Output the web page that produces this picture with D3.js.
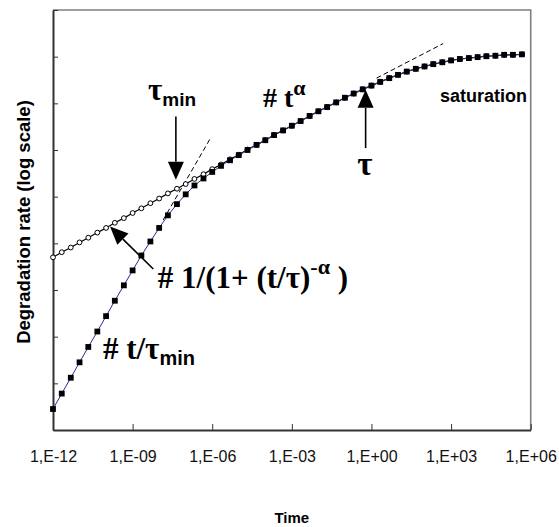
<!DOCTYPE html>
<html><head><meta charset="utf-8">
<script src="https://cdn.jsdelivr.net/npm/d3@7"></script>
<style>body{margin:0;background:#fff}svg{display:block}</style>
</head><body><svg id="c" width="559" height="527"></svg>
<script>
// ---- data (log10 units) ----
const logTime = [-12,-11.67,-11.33,-11,-10.67,-10.33,-10,-9.67,-9.33,-9,-8.67,-8.33,-8,-7.67,-7.33,-7,-6.67,-6.33,-6,-5.67,-5.33,-5,-4.67,-4.33,-4,-3.67,-3.33,-3,-2.67,-2.33,-2,-1.67,-1.33,-1,-0.67,-0.33,0,0.33,0.67,1,1.33,1.67,2,2.33,2.67,3,3.33,3.67,4,4.33,4.67,5,5.33,5.67];
const rateOpen = [3.70,3.81,3.91,4.02,4.12,4.23,4.33,4.44,4.54,4.65,4.75,4.86,4.96,5.07,5.17,5.27,5.38,5.48,5.59,5.69,5.80,5.90,6.01,6.11,6.21,6.32,6.42,6.52,6.62,6.73,6.83,6.92,7.02,7.12,7.21,7.30,7.38,7.46,7.54,7.61,7.68,7.74,7.79,7.84,7.88,7.92,7.95,7.97,7.99,8.01,8.02,8.04,8.04,8.05];
const rateFilled = [0.45,0.78,1.12,1.45,1.78,2.11,2.44,2.77,3.10,3.42,3.74,4.04,4.33,4.60,4.84,5.05,5.24,5.39,5.53,5.66,5.78,5.89,6.00,6.11,6.21,6.32,6.42,6.52,6.62,6.73,6.83,6.92,7.02,7.12,7.21,7.30,7.38,7.46,7.54,7.61,7.68,7.74,7.79,7.84,7.88,7.92,7.95,7.97,7.99,8.01,8.02,8.04,8.04,8.05];
const xTickValues = [-12,-9,-6,-3,0,3,6];
const xTickLabels = ["1,E-12","1,E-09","1,E-06","1,E-03","1,E+00","1,E+03","1,E+06"];
const yTickValues = [0,1,2,3,4,5,6,7,8,9];
// dashed asymptotes [logTime, logRate]
const asymLinear = [[-7.85,4.50],[-6.06,6.26]];
const asymPower = [[0.19,7.54],[2.70,8.28]];
// arrows: [tail, tip]
const arrows = [
  [[-7.37,6.72],[-7.37,5.36]],
  [[-0.22,6.04],[-0.22,7.29]],
  [[-8.22,3.45],[-9.85,4.36]]
];

// ---- layout ----
const L=53, R=530.7, T=10, B=430;
const svg=d3.select("#c");
const x=d3.scaleLinear().domain([-12,6]).range([L,R]);
const y=d3.scaleLinear().domain([0,9]).range([B,T]);

// frame top/right
svg.append("path").attr("d",`M${L},${T}H${R}V${B}`).attr("fill","none").attr("stroke","#7f7f7f").attr("stroke-width",1.6);

// axes
const xa=svg.append("g").attr("transform",`translate(0,${B})`)
  .call(d3.axisBottom(x).tickValues(xTickValues).tickSizeInner(-6).tickSizeOuter(0).tickPadding(21)
    .tickFormat((d,i)=>xTickLabels[i]));
const ya=svg.append("g").attr("transform",`translate(${L},0)`)
  .call(d3.axisLeft(y).tickValues(yTickValues).tickSizeInner(-5).tickSizeOuter(0).tickFormat(""));
[xa,ya].forEach(a=>{
  a.select(".domain").attr("stroke","#333").attr("stroke-width",2);
  a.selectAll(".tick line").attr("stroke","#333").attr("stroke-width",1);
});
xa.selectAll(".tick text").attr("font-family","Arial, 'Liberation Sans', sans-serif").attr("font-size",16).attr("fill","#111");

// axis titles
svg.append("text").attr("x",(L+R)/2).attr("y",523).attr("text-anchor","middle")
  .attr("font-family","Arial, 'Liberation Sans', sans-serif").attr("font-weight","bold").attr("font-size",15).text("Time");
svg.append("text").attr("transform",`translate(30,222) rotate(-90)`).attr("text-anchor","middle")
  .attr("font-family","Arial, 'Liberation Sans', sans-serif").attr("font-weight","bold").attr("font-size",18.5).text("Degradation rate (log scale)");

// dashed asymptotes
const line=d3.line().x(d=>x(d[0])).y(d=>y(d[1]));
[asymLinear,asymPower].forEach(a=>svg.append("path").attr("d",line(a)).attr("fill","none")
  .attr("stroke","#000").attr("stroke-width",1).attr("stroke-dasharray","5,3"));

// series
const openPts=logTime.map((t,i)=>[t,rateOpen[i]]);
const filledPts=logTime.map((t,i)=>[t,rateFilled[i]]);
svg.append("path").attr("d",line(openPts)).attr("fill","none").attr("stroke","#000").attr("stroke-width",1.2);
svg.append("g").selectAll("circle").data(openPts).join("circle")
  .attr("cx",d=>x(d[0])).attr("cy",d=>y(d[1])).attr("r",2.4)
  .attr("fill","#fff").attr("stroke","#000").attr("stroke-width",1);
svg.append("path").attr("d",line(filledPts)).attr("fill","none").attr("stroke","#2a2aa0").attr("stroke-width",1);
const s=5.8;
svg.append("g").selectAll("rect").data(filledPts).join("rect")
  .attr("x",d=>x(d[0])-s/2).attr("y",d=>y(d[1])-s/2).attr("width",s).attr("height",s).attr("fill","#000");

// arrows
arrows.forEach(([a,b])=>{
  const x1=x(a[0]),y1=y(a[1]),x2=x(b[0]),y2=y(b[1]);
  const ang=Math.atan2(y2-y1,x2-x1), hl=18, hw=8;
  const bx=x2-hl*Math.cos(ang), by=y2-hl*Math.sin(ang);
  svg.append("line").attr("x1",x1).attr("y1",y1).attr("x2",bx).attr("y2",by).attr("stroke","#000").attr("stroke-width",1.6);
  const px=-Math.sin(ang)*hw, py=Math.cos(ang)*hw;
  svg.append("path").attr("d",`M${x2},${y2}L${bx+px},${by+py}L${bx-px},${by-py}Z`).attr("fill","#000");
});

// labels
const serif="'Liberation Serif','Times New Roman',serif";
const sans="Arial,'Liberation Sans',sans-serif";
function lab(pos){return svg.append("text").attr("x",x(pos[0])).attr("y",y(pos[1])).attr("font-weight","bold").attr("fill","#000");}
// tau_min
let t=lab([-8.42,7.07]);
t.append("tspan").attr("font-family",serif).attr("font-size",31).text("τ");
t.append("tspan").attr("font-family",sans).attr("font-size",19).attr("dy",6).text("min");
// # t^alpha
t=lab([-4.09,6.92]).attr("font-family",serif).attr("font-size",28);
t.append("tspan").text("# t");
t.append("tspan").attr("font-size",22).attr("dy",-12).text("α");
// saturation
lab([2.58,7.03]).attr("font-family",sans).attr("font-size",18).text("saturation");
// tau
lab([-0.25,5.46]).attr("font-family",serif).attr("font-size",33).attr("text-anchor","middle").text("τ");
// formula 1
t=lab([-8.05,3.04]).attr("font-family",serif).attr("font-size",31);
t.append("tspan").text("# 1/(1+ (t/τ)");
t.append("tspan").attr("font-size",22).attr("dy",-14).text("-α");
t.append("tspan").attr("dy",14).text(" )");
// formula 2
t=lab([-10.12,1.52]).attr("font-family",serif).attr("font-size",31);
t.append("tspan").text("# t/τ");
t.append("tspan").attr("font-family",sans).attr("font-size",20).attr("dy",6).text("min");
</script></body></html>
